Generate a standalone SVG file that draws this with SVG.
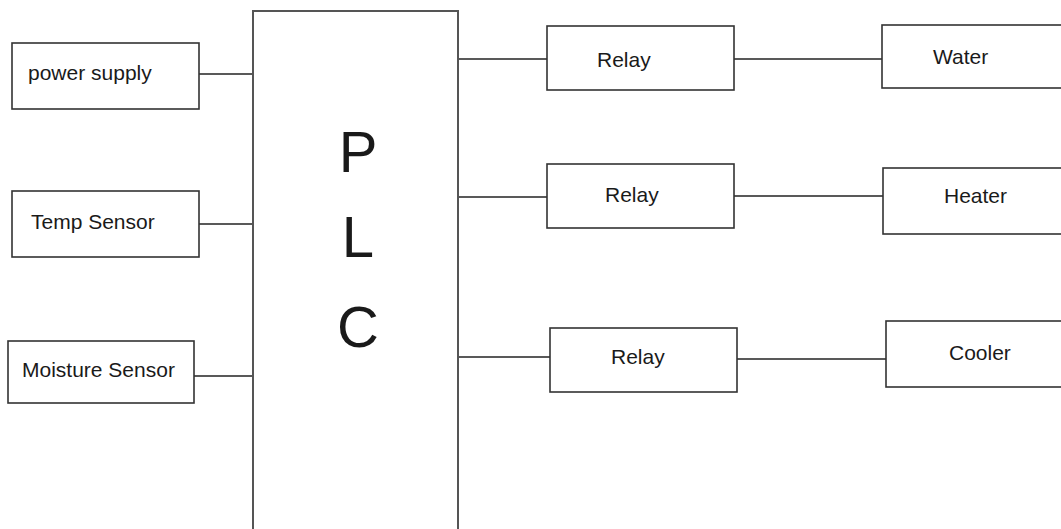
<svg xmlns="http://www.w3.org/2000/svg" width="1061" height="529" viewBox="0 0 1061 529">
<style>
.box{fill:#fff;stroke:#333;stroke-width:1.6}
.plc{fill:#fff;stroke:#555;stroke-width:2}
.ln{stroke:#222;stroke-width:1.5;fill:none}
.t{font-family:"Liberation Sans",Arial,sans-serif;font-size:21px;fill:#1a1a1a}
.big{font-family:"Liberation Sans",Arial,sans-serif;font-size:58px;fill:#1a1a1a;text-anchor:middle}
</style>
<rect width="1061" height="529" fill="#fff"/>
<g id="connectors">
<line class="ln" x1="199" y1="74" x2="257" y2="74"/>
<line class="ln" x1="199" y1="224" x2="257" y2="224"/>
<line class="ln" x1="194" y1="376" x2="257" y2="376"/>
<line class="ln" x1="458" y1="59" x2="551" y2="59"/>
<line class="ln" x1="734" y1="59" x2="882" y2="59"/>
<line class="ln" x1="458" y1="197" x2="551" y2="197"/>
<line class="ln" x1="734" y1="196" x2="888" y2="196"/>
<line class="ln" x1="458" y1="357" x2="554" y2="357"/>
<line class="ln" x1="737" y1="359" x2="890" y2="359"/>
</g>
<g id="plc">
<path class="plc" d="M253 529 V11 H458 V529"/>
<text class="big" x="358" y="172">P</text>
<text class="big" x="358" y="257">L</text>
<text class="big" x="358" y="347">C</text>
</g>
<g id="power-supply">
<rect class="box" x="12" y="43" width="187" height="66"/>
<text class="t" x="28" y="80">power supply</text>
</g>
<g id="temp-sensor">
<rect class="box" x="12" y="191" width="187" height="66"/>
<text class="t" x="31" y="229">Temp Sensor</text>
</g>
<g id="moisture-sensor">
<rect class="box" x="8" y="341" width="186" height="62"/>
<text class="t" x="22" y="377">Moisture Sensor</text>
</g>
<g id="relay1">
<rect class="box" x="547" y="26" width="187" height="64"/>
<text class="t" x="597" y="67">Relay</text>
</g>
<g id="relay2">
<rect class="box" x="547" y="164" width="187" height="64"/>
<text class="t" x="605" y="202">Relay</text>
</g>
<g id="relay3">
<rect class="box" x="550" y="328" width="187" height="64"/>
<text class="t" x="611" y="364">Relay</text>
</g>
<g id="water">
<rect class="box" x="882" y="25" width="185" height="63"/>
<text class="t" x="933" y="64">Water</text>
</g>
<g id="heater">
<rect class="box" x="883" y="168" width="184" height="66"/>
<text class="t" x="944" y="203">Heater</text>
</g>
<g id="cooler">
<rect class="box" x="886" y="321" width="181" height="66"/>
<text class="t" x="949" y="360">Cooler</text>
</g>
</svg>
